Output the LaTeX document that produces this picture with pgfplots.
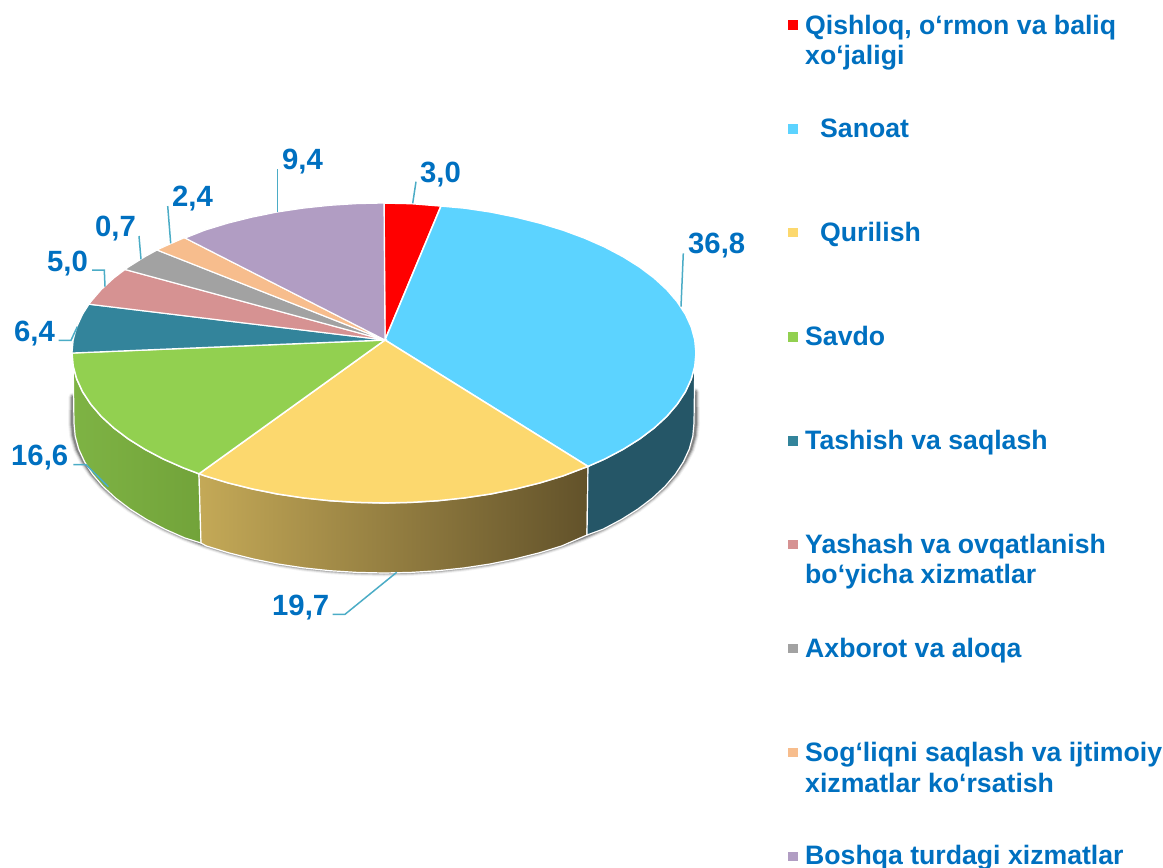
\documentclass[border=0pt]{standalone}
\usepackage{fontspec}
\setmainfont{Liberation Sans}
\usepackage{pgfplots}
\pgfplotsset{compat=1.18}
\usepackage{pgfplotstable}

\definecolor{cRed}{HTML}{FF0000}
\definecolor{cBlue}{HTML}{5CD3FF}
\definecolor{cYel}{HTML}{FCD86E}
\definecolor{cGreen}{HTML}{92D050}
\definecolor{cTeal}{HTML}{33849B}
\definecolor{cPink}{HTML}{D69292}
\definecolor{cGray}{HTML}{A2A2A2}
\definecolor{cPeach}{HTML}{F7BD8D}
\definecolor{cPurple}{HTML}{B19DC3}
\definecolor{cText}{HTML}{0070C0}
\definecolor{cLead}{HTML}{4BACC6}
\definecolor{HTMLgreenL}{HTML}{7EB344}
\definecolor{HTMLgreenR}{HTML}{72A33A}
\definecolor{HTMLyelL}{HTML}{C4A957}
\definecolor{HTMLyelR}{HTML}{62522A}
\definecolor{HTMLblueW}{HTML}{255667}

% outline of the lower rim, used for the soft shadow
\pgfplotstableread{
x y
73 397
72.5 423
73.8 436
77.5 449
83.6 461
92 473.5
102.5 485.5
115 497
130 508
146.5 518.4
164.8 528.1
184.7 536.9
206.2 544.9
229 551.9
253 557.9
278 563
303.8 566.9
330.2 569.7
357 571.4
384 572
411 571.4
437.8 569.7
464.2 566.9
490 563
515 557.9
539 551.9
561.8 544.9
583.3 536.9
603.2 528.1
621.5 518.4
638 508
652.5 497
665.5 485.5
676 473.5
684.4 461
690.5 449
694.2 436
695.5 423
695 392
}\rimtable

\newcommand{\vallab}[3]{\node[anchor=base west,inner sep=0pt,text=cText,font=\fontsize{29.3}{30}\selectfont\bfseries] at (axis cs:#1,#2) {#3};}
\newcommand{\leglab}[3]{\node[anchor=base west,inner sep=0pt,text=cText,font=\fontsize{26.65}{30}\selectfont\bfseries] at (axis cs:#1,#2) {#3};}

\begin{document}
\begin{tikzpicture}
\useasboundingbox (0,0) rectangle (1163pt,868pt);
\begin{axis}[
  at={(0,0)}, anchor=south west,
  scale only axis, width=1163pt, height=868pt,
  xmin=0, xmax=1163, ymin=0, ymax=868,
  y dir=reverse,
  hide axis, clip=false,
]
% shadow
\addplot[draw=black, draw opacity=.05, line width=9pt, line cap=round, forget plot] table[x=x,y=y] {\rimtable};
\addplot[draw=black, draw opacity=.10, line width=7pt, line cap=round, forget plot] table[x=x,y=y] {\rimtable};
\addplot[draw=black, draw opacity=.18, line width=5pt, line cap=round, forget plot] table[x=x,y=y] {\rimtable};
\addplot[draw=black, draw opacity=.25, line width=3pt, line cap=round, forget plot] table[x=x,y=y] {\rimtable};

% side walls
\addplot[draw=white, line width=1.2pt, left color=HTMLgreenL, right color=HTMLgreenR] coordinates {
 (73.2,366.1)(76.7,379)(82.6,391.8)(90.8,404.3)(101.2,416.4)(113.8,428)(128.4,439)(145,449.4)(163.4,459.1)(183.4,467.9)(199,473.8)
 (201,543)(184.7,537.9)(164.8,529.1)(146.5,519.4)(130,509)(115.5,498)(103,486.4)(92.7,474.3)(84.6,461.8)(78.7,449)(75.2,436.1)(74,423)
} -- cycle;
\addplot[draw=white, line width=1.2pt, left color=HTMLyelL, right color=HTMLyelR] coordinates {
 (199,473.8)(205,475.9)(228,482.9)(252.1,488.9)(277.3,494)(303.3,497.9)(329.8,500.7)(356.8,502.4)(384,503)(411.2,502.4)(438.2,500.7)(464.7,497.9)(490.7,494)(515.9,488.9)(540,482.9)(563,475.9)(588,466.4)
 (587,535)(561.8,545.9)(539,552.9)(515,558.9)(490,564)(464.2,567.9)(437.8,570.7)(411,572.4)(384,573)(357,572.4)(330.2,570.7)(303.8,567.9)(278,564)(253,558.9)(229,552.9)(206.2,545.9)(201,543)
} -- cycle;
\addplot[draw=white, line width=1.2pt, fill=HTMLblueW] coordinates {
 (588,466.4)(604.6,459.1)(623,449.4)(639.6,439)(654.2,428)(666.8,416.4)(677.2,404.3)(685.4,391.8)(691.3,379)(694.8,366.1)
 (694,423)(692.8,436.1)(689.3,449)(683.4,461.8)(675.3,474.3)(665,486.4)(652.5,498)(638,509)(621.5,519.4)(603.2,529.1)(587,535)
} -- cycle;

% top faces
\addplot[draw=white, line width=1.5pt, fill=cRed] coordinates {
 (385,340)(384,203)(411.2,203.6)(441,206)
} -- cycle;
\addplot[draw=white, line width=1.5pt, fill=cBlue] coordinates {
 (385,340)(441,206)(464.7,208.1)(490.7,212)(515.9,217.1)(540,223.1)(563,230.1)(584.6,238.1)(604.6,246.9)(623,256.6)(639.6,267)(654.2,278)(666.8,289.6)(677.2,301.7)(685.4,314.2)(691.3,327)(694.8,339.9)(696,353)(694.8,366.1)(691.3,379)(685.4,391.8)(677.2,404.3)(666.8,416.4)(654.2,428)(639.6,439)(623,449.4)(604.6,459.1)(588,466.4)
} -- cycle;
\addplot[draw=white, line width=1.5pt, fill=cYel] coordinates {
 (385,340)(588,466.4)(563,475.9)(540,482.9)(515.9,488.9)(490.7,494)(464.7,497.9)(438.2,500.7)(411.2,502.4)(384,503)(356.8,502.4)(329.8,500.7)(303.3,497.9)(277.3,494)(252.1,488.9)(228,482.9)(205,475.9)(199,473.8)
} -- cycle;
\addplot[draw=white, line width=1.5pt, fill=cGreen] coordinates {
 (385,340)(199,473.8)(183.4,467.9)(163.4,459.1)(145,449.4)(128.4,439)(113.8,428)(101.2,416.4)(90.8,404.3)(82.6,391.8)(76.7,379)(73.2,366.1)(72,353)
} -- cycle;
\addplot[draw=white, line width=1.2pt, fill=cTeal] coordinates {
 (385,340)(72,353)(73.2,339.9)(76.7,327)(82.6,314.2)(89,304.2)
} -- cycle;
\addplot[draw=white, line width=1.2pt, fill=cPink] coordinates {
 (385,340)(89,304.2)(90.8,301.7)(101.2,289.6)(113.8,278)(125,269.5)
} -- cycle;
\addplot[draw=white, line width=1.2pt, fill=cGray] coordinates {
 (385,340)(125,269.5)(128.4,267)(145,256.6)(157,250)
} -- cycle;
\addplot[draw=white, line width=1.2pt, fill=cPeach] coordinates {
 (385,340)(157,250)(163.4,246.9)(183.4,238.1)(185,238)
} -- cycle;
\addplot[draw=white, line width=1.2pt, fill=cPurple] coordinates {
 (385,340)(185,238)(205,230.1)(228,223.1)(252.1,217.1)(277.3,212)(303.3,208.1)(329.8,205.3)(356.8,203.6)(384,203)
} -- cycle;

% leader lines
\addplot[cLead, line width=1.5pt] coordinates {(416,181.7)(412.7,203.3)};
\addplot[cLead, line width=1.5pt] coordinates {(683.3,253.3)(681,306.7)};
\addplot[cLead, line width=1.5pt] coordinates {(332.7,614.3)(345,614.3)(396.7,572.3)};
\addplot[cLead, line width=1.5pt] coordinates {(73.3,464.7)(86,464.7)(108.3,486.7)};
\addplot[cLead, line width=1.5pt] coordinates {(58.7,340.3)(71,340.3)(77.3,326.7)};
\addplot[cLead, line width=1.5pt] coordinates {(92,270)(104.3,270)(105,286.7)};
\addplot[cLead, line width=1.5pt] coordinates {(139,236)(141,259.3)};
\addplot[cLead, line width=1.5pt] coordinates {(167.7,206)(170.7,243.3)};
\addplot[cLead, line width=1.5pt] coordinates {(277.7,169)(277.7,211.7)};

% value labels
\vallab{420}{182}{3,0}
\vallab{688}{253}{36,8}
\vallab{272}{615}{19,7}
\vallab{11}{465}{16,6}
\vallab{14}{341}{6,4}
\vallab{47}{271}{5,0}
\vallab{95}{236}{0,7}
\vallab{172}{206}{2,4}
\vallab{282}{169}{9,4}

% legend keys
\addplot[only marks, color=cRed, mark=square*, mark size=4.2pt] coordinates {(792.5,24.7)};
\addplot[only marks, color=cBlue, mark=square*, mark size=4.2pt] coordinates {(792.5,128.5)};
\addplot[only marks, color=cYel, mark=square*, mark size=4.2pt] coordinates {(792.5,232.3)};
\addplot[only marks, color=cGreen, mark=square*, mark size=4.2pt] coordinates {(792.5,336.5)};
\addplot[only marks, color=cTeal, mark=square*, mark size=4.2pt] coordinates {(792.5,440.5)};
\addplot[only marks, color=cPink, mark=square*, mark size=4.2pt] coordinates {(792.5,544)};
\addplot[only marks, color=cGray, mark=square*, mark size=4.2pt] coordinates {(792.5,648)};
\addplot[only marks, color=cPeach, mark=square*, mark size=4.2pt] coordinates {(792.5,752)};
\addplot[only marks, color=cPurple, mark=square*, mark size=4.2pt] coordinates {(792.5,856)};

% legend text
\leglab{805}{34}{Qishloq, o‘rmon va baliq}
\leglab{805}{64}{xo‘jaligi}
\leglab{820}{137}{Sanoat}
\leglab{820}{241}{Qurilish}
\leglab{805}{345}{Savdo}
\leglab{805}{449}{Tashish va saqlash}
\leglab{805}{553}{Yashash va ovqatlanish}
\leglab{805}{583}{bo‘yicha xizmatlar}
\leglab{805}{657}{Axborot va aloqa}
\leglab{805}{761}{Sog‘liqni saqlash va ijtimoiy}
\leglab{805}{792}{xizmatlar ko‘rsatish}
\leglab{805}{864}{Boshqa turdagi xizmatlar}
\end{axis}
\end{tikzpicture}
\end{document}
